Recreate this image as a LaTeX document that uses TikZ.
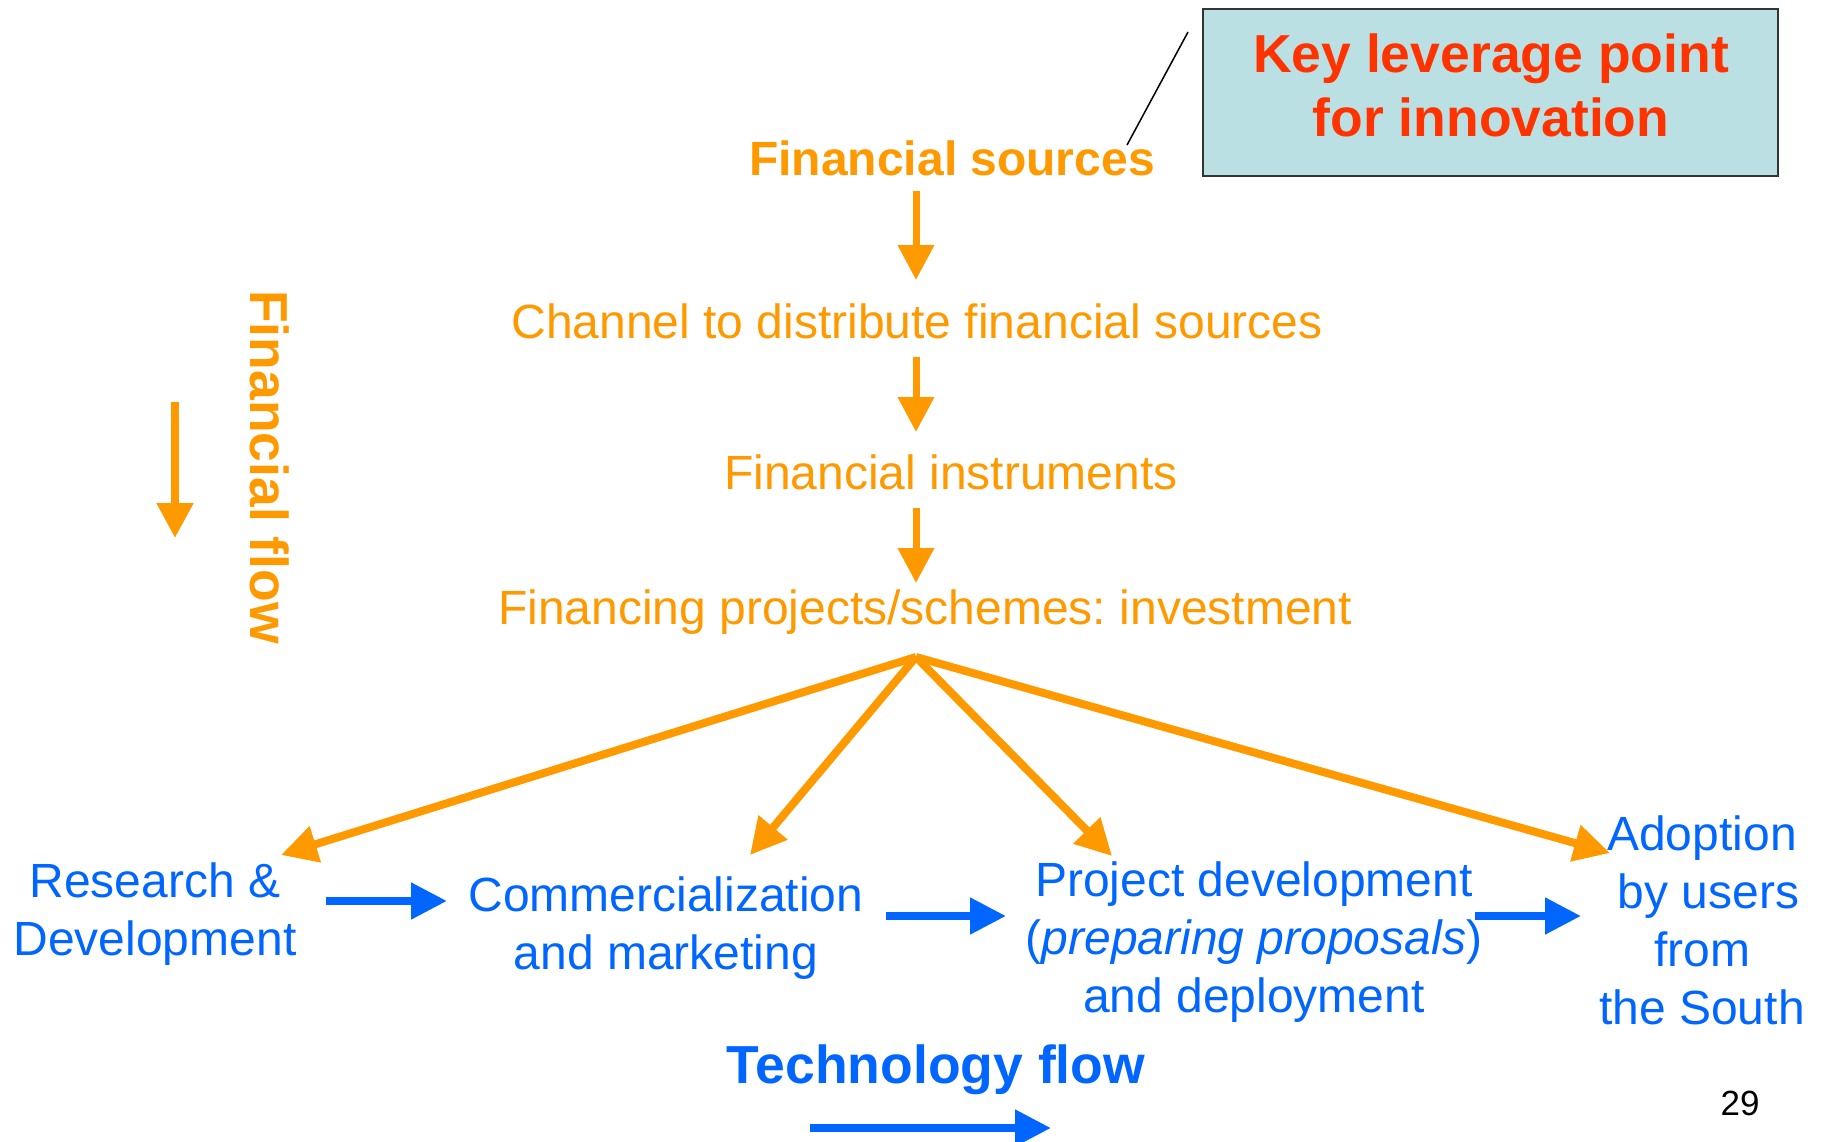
\documentclass[tikz,border=0pt]{standalone}
\usepackage{fontspec}
\setmainfont{Liberation Sans}
\usetikzlibrary{arrows.meta}
\definecolor{forange}{HTML}{FF9900}
\definecolor{tblue}{HTML}{0066FF}
\definecolor{kred}{HTML}{FF3300}
\definecolor{kfill}{HTML}{BBE0E3}
\definecolor{kedge}{HTML}{333333}
\frenchspacing
\begin{document}
\begin{tikzpicture}[x=1pt,y=-1pt,
  txt/.style={inner sep=0pt, anchor=base, align=center},
  otxt/.style={txt, text=forange, font=\fontsize{48}{58}\selectfont},
  obold/.style={txt, text=forange, font=\fontsize{48}{58}\selectfont\bfseries},
  btxt/.style={txt, text=tblue, font=\fontsize{48}{58}\selectfont},
  bbold/.style={txt, text=tblue, font=\fontsize{53.5}{64}\selectfont\bfseries},
  oarr/.style={draw=forange, line width=7pt, -{Triangle[width=35pt,length=35pt]}},
  fanarr/.style={draw=forange, line width=8pt, -{Triangle[width=36pt,length=36pt]}},
  barr/.style={draw=tblue, line width=8pt, -{Triangle[width=35pt,length=36pt]}},
  keybox/.style={draw=kedge, fill=kfill, line width=2.2pt}
]
\useasboundingbox (0,0) rectangle (1822,1142);

% key leverage box
\draw[keybox] (1203,9) rectangle (1778,176);
\node[txt, text=kred, font=\fontsize{53.5}{64}\selectfont\bfseries] (key) at (1491,137) {Key leverage point\\for innovation};
\coordinate (kl1) at (1188,32);
\coordinate (kl2) at (1127,145);
\draw[black, line width=1.5pt] (kl1) -- (kl2);

% financial chain
\node[obold] (fs) at (952,176) {Financial sources};
\node[otxt] (ch) at (917,338) {Channel to distribute financial sources};
\node[otxt] (fi) at (951,489) {Financial instruments};
\node[otxt] (fp) at (925,624) {Financing projects/schemes: investment};

\coordinate (a1s) at (916,191);
\coordinate (a1e) at (916,280);
\coordinate (a2s) at (916,357);
\coordinate (a2e) at (916,432);
\coordinate (a3s) at (916,508);
\coordinate (a3e) at (916,583);
\draw[oarr] (a1s) -- (a1e);
\draw[oarr] (a2s) -- (a2e);
\draw[oarr] (a3s) -- (a3e);

% financial flow label
\node[txt, text=forange, font=\fontsize{53.5}{64}\selectfont\bfseries, rotate=-90] (ff) at (250,467) {Financial flow};
\coordinate (ffs) at (175,402);
\coordinate (ffe) at (175,538);
\draw[draw=forange, line width=8pt, -{Triangle[width=35pt,length=35pt]}] (ffs) -- (ffe);

% technology stages (anchor = baseline of last line)
\node[btxt] (rd) at (155,955) {Research \&\\Development};
\node[btxt] (cm) at (666,969) {Commercialization\\and marketing};
\node[btxt] (pd) at (1254,1012) {Project development\\(\textit{preparing proposals})\\and deployment};
\node[btxt] (ad) at (1702,1024) {Adoption\\\hspace*{13pt}by users\\from\\the South};

% fan arrows
\coordinate (fan) at (916,657);
\coordinate (trd) at (281,855);
\coordinate (tcm) at (750,855);
\coordinate (tpd) at (1112,856);
\coordinate (tad) at (1610,853);
\draw[fanarr] (fan) -- (trd);
\draw[fanarr] (fan) -- (tcm);
\draw[fanarr] (fan) -- (tpd);
\draw[fanarr] (fan) -- (tad);

% blue arrows
\coordinate (b1s) at (326,901);
\coordinate (b1e) at (447,901);
\coordinate (b2s) at (886,916);
\coordinate (b2e) at (1006,916);
\coordinate (b3s) at (1475,916);
\coordinate (b3e) at (1581,916);
\draw[barr] (b1s) -- (b1e);
\draw[barr] (b2s) -- (b2e);
\draw[barr] (b3s) -- (b3e);

% technology flow
\node[bbold] (tf) at (936,1083) {Technology flow};
\coordinate (tfs) at (810,1128);
\coordinate (tfe) at (1051,1128);
\draw[barr] (tfs) -- (tfe);

% page number
\node[txt, text=black, font=\fontsize{35}{42}\selectfont] (pn) at (1740,1115) {29};
\end{tikzpicture}
\end{document}
